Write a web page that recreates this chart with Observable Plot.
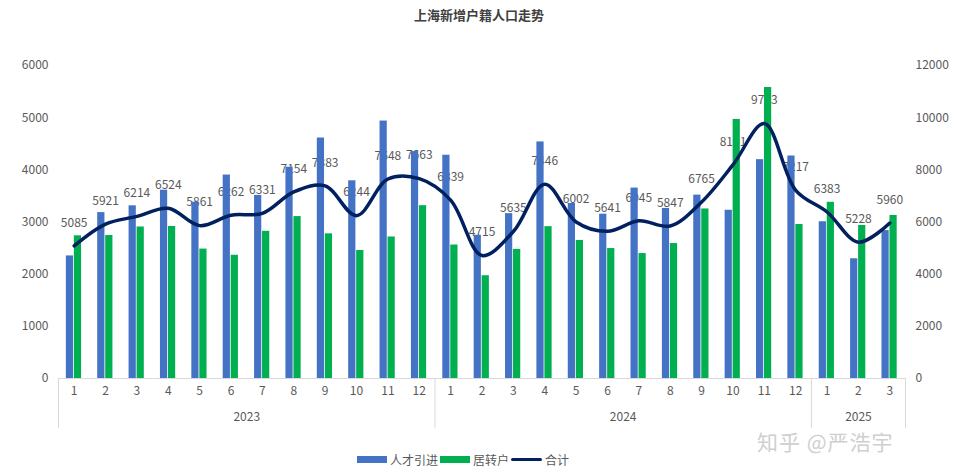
<!DOCTYPE html>
<html><head><meta charset="utf-8">
<script src="https://cdn.jsdelivr.net/npm/d3@7"></script>
<script src="https://cdn.jsdelivr.net/npm/@observablehq/plot@0.6"></script>
<style>
body{margin:0;background:#fff;font-family:"Noto Sans CJK SC","Microsoft YaHei",sans-serif;}
#wrap{position:relative;width:958px;height:472px;overflow:hidden;background:#fff;}
#title{position:absolute;top:5px;left:0;width:958px;text-align:center;font-size:13px;font-weight:bold;color:#404040;}
#chart{position:absolute;top:30px;left:0;}
#legend{position:absolute;top:451px;left:357px;display:flex;align-items:center;font-size:12px;color:#595959;white-space:nowrap;}
#legend .sw{display:inline-block;width:30px;height:7px;margin-right:3px;}
#legend .ln{display:inline-block;width:31px;height:3px;margin-right:3px;background:#002060;border-radius:2px;}
#legend span.t{margin-right:2px;}
#wm{position:absolute;left:757px;top:431px;font-size:21px;line-height:20px;color:#cfcfcf;letter-spacing:1px;}
</style></head>
<body>
<div id="wrap">
  <div id="title">上海新增户籍人口走势</div>
  <div id="chart"></div>
  <div id="wm">知乎 @严浩宇</div>
  <div id="legend">
    <span class="sw" style="background:#4472C4"></span><span class="t">人才引进</span>
    <span class="sw" style="background:#00B050"></span><span class="t">居转户</span>
    <span class="ln"></span><span class="t">合计</span>
  </div>
</div>
<script>
const years = ["2023","2023","2023","2023","2023","2023","2023","2023","2023","2023","2023","2023",
               "2024","2024","2024","2024","2024","2024","2024","2024","2024","2024","2024","2024",
               "2025","2025","2025"];
const months = [1,2,3,4,5,6,7,8,9,10,11,12, 1,2,3,4,5,6,7,8,9,10,11,12, 1,2,3];
const talent = [2350,3180,3310,3610,3380,3900,3510,4050,4610,3790,4935,4350,
                4280,2745,3160,4535,3355,3150,3650,3260,3515,3225,4195,4265,
                3005,2295,2835];
const residence = [2735,2741,2904,2914,2481,2362,2821,3104,2773,2454,2713,3313,
                   2559,1970,2475,2911,2647,2491,2395,2587,3250,4966,5578,2952,
                   3378,2933,3125];
const total = [5085,5921,6214,6524,5861,6262,6331,7154,7383,6244,7648,7663,
               6839,4715,5635,7446,6002,5641,6045,5847,6765,8191,9773,7217,
               6383,5228,5960];
const leftTicks = [0,1000,2000,3000,4000,5000,6000];

const data = months.map((m, i) => ({i, month: m, year: years[i], talent: talent[i], residence: residence[i], total: total[i]}));
const yearGroups = d3.groups(data, d => d.year).map(([year, rows]) => ({
  year, first: rows[0].i, last: rows[rows.length - 1].i
}));
const bounds = [...yearGroups.map(g => g.first - 0.5), yearGroups[yearGroups.length - 1].last + 0.5];

const grey = "#595959", lineGrey = "#d9d9d9";
const chart = Plot.plot({
  width: 958, height: 410,
  marginTop: 35, marginBottom: 62, marginLeft: 58, marginRight: 53,
  style: {fontFamily: '"Noto Sans CJK SC","Microsoft YaHei",sans-serif', fontSize: "12px", color: grey, background: "#fff"},
  x: {type: "linear", domain: [-0.5, data.length - 0.5], axis: null, label: null},
  y: {domain: [0, 6000], axis: null, label: null},
  marks: [
    Plot.ruleY([0], {stroke: lineGrey, strokeWidth: 1}),
    Plot.ruleX(bounds, {x: d => d, y1: () => 0, y2: () => -960, stroke: lineGrey, strokeWidth: 1}),
    Plot.axisY(leftTicks, {anchor: "left", label: null, tickSize: 0, tickPadding: 10, fontSize: 12, fill: grey, tickFormat: d => String(d)}),
    Plot.axisY(leftTicks, {anchor: "right", label: null, tickSize: 0, tickPadding: 10, fontSize: 12, fill: grey, tickFormat: d => String(d * 2)}),
    Plot.axisX(data.map(d => d.i), {anchor: "bottom", label: null, tickSize: 0, tickPadding: 8, fontSize: 12, fill: grey, tickFormat: i => String(months[i])}),
    Plot.text(yearGroups, {x: g => (g.first + g.last) / 2, y: () => -740, text: "year", fontSize: 12, fill: grey}),
    Plot.text(data, {x: "i", y: d => d.total / 2, text: d => String(d.total), dy: -23, fontSize: 12, fill: grey}),
    Plot.rect(data, {x1: d => d.i - 0.25, x2: d => d.i - 0.02, y1: () => 0, y2: "talent", fill: "#4472C4"}),
    Plot.rect(data, {x1: d => d.i + 0.005, x2: d => d.i + 0.235, y1: () => 0, y2: "residence", fill: "#00B050"}),
    Plot.line(data, {x: "i", y: d => d.total / 2, curve: "catmull-rom", stroke: "#002060", strokeWidth: 3.5, strokeLinecap: "round", strokeLinejoin: "round"})
  ]
});
document.getElementById("chart").appendChild(chart);
</script>
</body></html>
